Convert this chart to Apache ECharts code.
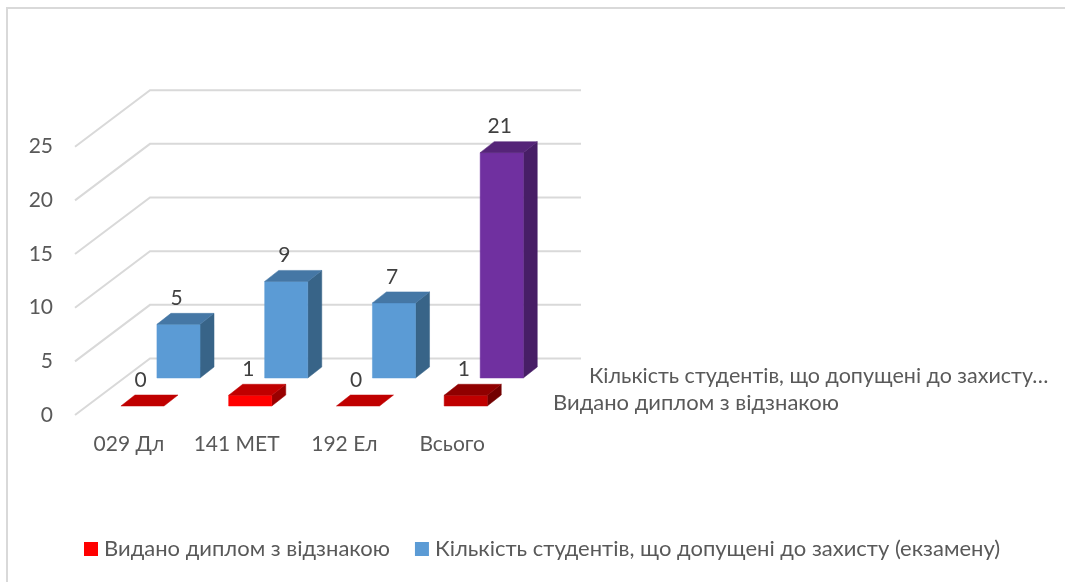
<!DOCTYPE html>
<html>
<head>
<meta charset="utf-8">
<style>
  html, body { margin: 0; padding: 0; background: #fff; }
  #chart { width: 1065px; height: 582px; }
</style>
</head>
<body>
<div id="chart"></div>
<script src="https://cdn.jsdelivr.net/npm/echarts@6/dist/echarts.min.js"></script>
<script>
const categories = ['029 Дл', '141 МЕТ', '192 Ел', 'Всього']
const honoursName = 'Видано диплом з відзнакою'
const admittedName = 'Кількість студентів, що допущені до захисту (екзамену)'
const admittedShort = 'Кількість студентів, що допущені до захисту…'
const honours = [0, 1, 0, 1]
const admitted = [5, 9, 7, 21]
const yTicks = [0, 5, 10, 15, 20, 25]

const FONT = 'Lato, "Open Sans", sans-serif'
const TEXT = '#595959'
const WALL = [75, -56.5]     // смещение задней стенки
const BAR_DEPTH = [14, -11]  // глубина столбика

// цвета граней: front, top, side
const RED = ['#ff0000', '#c00000', '#990000']
const DARK_RED = ['#c00000', '#900000', '#730000']
const BLUE = ['#5b9bd5', '#4577a5', '#386488']
const PURPLE = ['#7030a0', '#552478', '#471e66']

function poly (points, color) {
  return {
    type: 'polygon',
    shape: { points: points },
    style: { fill: color, stroke: color, lineWidth: 0.5 }
  }
}

function barRenderer (rowShift, colorsOf) {
  return function (params, api) {
    const i = api.value(0)
    const val = api.value(1)
    const c0 = api.coord([i, 0])
    const c1 = api.coord([i, val])
    const w = api.size([1, 0])[0] * 0.4
    const l = c0[0] + rowShift[0] - w / 2
    const r = l + w
    const b = c0[1] + rowShift[1]
    const t = c1[1] + rowShift[1]
    const dx = BAR_DEPTH[0]
    const dy = BAR_DEPTH[1]
    const colors = colorsOf(i)
    const children = []
    if (val > 0) {
      children.push(poly([[r, b], [r + dx, b + dy], [r + dx, t + dy], [r, t]], colors[2]))
      children.push(poly([[l, b], [r, b], [r, t], [l, t]], colors[0]))
    }
    children.push(poly([[l, t], [r, t], [r + dx, t + dy], [l + dx, t + dy]], colors[1]))
    children.push({
      type: 'text',
      style: {
        text: String(val),
        x: l + w / 2 + dx / 2 - 9,
        y: t + dy - 15,
        align: 'center',
        verticalAlign: 'middle',
        fill: '#404040',
        font: '21px ' + FONT
      }
    })
    return { type: 'group', children: children }
  }
}

function wallRenderer (params, api) {
  const rect = params.coordSys
  const y = api.coord([0, api.value(1)])[1]
  const x0 = rect.x
  const x1 = rect.x + WALL[0]
  const x2 = rect.x + rect.width + WALL[0]
  const y1 = y + WALL[1]
  return {
    type: 'polyline',
    shape: { points: [[x0, y], [x1, y1], [x2, y1]] },
    style: { stroke: '#d9d9d9', lineWidth: 2, fill: null }
  }
}

const chart = echarts.init(document.getElementById('chart'))

const option = {
  animation: false,
  textStyle: { fontFamily: FONT },
  grid: { left: 75, top: 146.7, width: 431, height: 268.3 },
  xAxis: {
    type: 'category',
    data: categories,
    axisLine: { show: false },
    axisTick: { show: false },
    axisLabel: { color: TEXT, fontSize: 21, margin: 19, fontFamily: FONT, interval: 0 }
  },
  yAxis: {
    type: 'value',
    min: 0,
    max: 25,
    interval: 5,
    axisLine: { show: false },
    axisTick: { show: false },
    splitLine: { show: false },
    axisLabel: { color: TEXT, fontSize: 21, margin: 22, fontFamily: FONT, padding: [2, 0, 0, 0] }
  },
  legend: {
    left: 84,
    top: 538,
    padding: 0,
    icon: 'rect',
    itemWidth: 14,
    itemHeight: 14,
    itemGap: 25,
    data: [honoursName, admittedName],
    textStyle: { color: TEXT, fontSize: 22, fontFamily: FONT, padding: [0, 0, 0, 1] }
  },
  graphic: [
    {
      type: 'rect',
      silent: true,
      shape: { x: 7, y: 8, width: 1200, height: 700 },
      style: { fill: 'none', stroke: '#d9d9d9', lineWidth: 2 }
    },
    {
      type: 'text',
      left: 589,
      top: 365,
      style: { text: admittedShort, fill: TEXT, font: '21.5px ' + FONT }
    },
    {
      type: 'text',
      left: 553,
      top: 392,
      style: { text: honoursName, fill: TEXT, font: '22px ' + FONT }
    }
  ],
  series: [
    {
      name: 'walls',
      type: 'custom',
      renderItem: wallRenderer,
      encode: { x: 0, y: 1 },
      silent: true,
      data: yTicks.map(t => [0, t])
    },
    {
      name: admittedName,
      type: 'custom',
      renderItem: barRenderer([49.6, -37], i => (i === 3 ? PURPLE : BLUE)),
      encode: { x: 0, y: 1 },
      itemStyle: { color: BLUE[0] },
      data: admitted.map((v, i) => [i, v])
    },
    {
      name: honoursName,
      type: 'custom',
      renderItem: barRenderer([13.6, -9], i => (i === 3 ? DARK_RED : RED)),
      encode: { x: 0, y: 1 },
      itemStyle: { color: RED[0] },
      data: honours.map((v, i) => [i, v])
    }
  ]
}

chart.setOption(option)
</script>
</body>
</html>
